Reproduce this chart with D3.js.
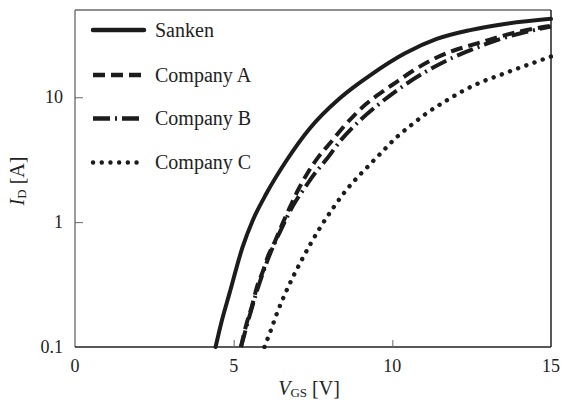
<!DOCTYPE html>
<html>
<head>
<script src="https://cdn.jsdelivr.net/npm/d3@7"></script>
</head>
<body style="margin:0">
<svg id="chart" width="561" height="403"></svg>
<script>
// Transfer characteristics I_D vs V_GS for four devices
const seriesNames = ["Sanken", "Company A", "Company B", "Company C"];

const sankenV = [4.43, 4.62, 4.87, 5.28, 5.6, 6.04, 6.67, 7.39, 8.3, 8.92, 9.3, 10.4, 11.4, 12.45, 13.49, 15];
const sankenI = [0.1, 0.16, 0.27, 0.63, 1.03, 1.71, 3.13, 5.6, 9.6, 12.8, 15.0, 22.5, 29.3, 34.5, 38.5, 42.5];

const companyAV = [5.23, 5.41, 5.57, 5.73, 5.93, 6.09, 6.30, 6.56, 6.78, 7.05, 7.34, 7.66, 8.04, 8.41, 8.83, 9.19, 9.51, 10.14, 10.65, 11.19, 11.82, 12.34, 12.86, 13.39, 13.92, 14.43, 15];
const companyAI = [0.1, 0.155, 0.21, 0.30, 0.41, 0.54, 0.70, 1.0, 1.33, 1.85, 2.5, 3.3, 4.3, 5.6, 7.3, 8.9, 10.3, 13.3, 16.3, 19.6, 23.1, 25.5, 27.9, 30.6, 33.2, 35.3, 37.3];

const companyBV = [5.23, 5.45, 5.75, 6.1, 6.5, 6.9, 7.25, 7.5, 7.93, 8.4, 9.0, 9.55, 10.4, 11.03, 11.98, 12.66, 13.4, 14.2, 15];
const companyBI = [0.1, 0.16, 0.29, 0.52, 0.88, 1.4, 1.9, 2.35, 3.2, 4.6, 6.6, 8.7, 12.6, 15.9, 21.2, 25.0, 29.3, 33.3, 36.8];

const companyCV = [5.97, 6.17, 6.38, 6.61, 6.86, 7.13, 7.43, 7.74, 8.09, 8.35, 8.56, 8.77, 8.98, 9.19, 9.35, 9.56, 10.14, 10.6, 11.1, 11.7, 12.24, 12.76, 13.34, 13.92, 14.5, 15];
const companyCI = [0.1, 0.136, 0.191, 0.263, 0.36, 0.49, 0.675, 0.917, 1.25, 1.55, 1.82, 2.1, 2.4, 2.72, 3.0, 3.4, 4.8, 6.0, 7.5, 9.4, 11.3, 13.1, 14.9, 16.9, 19.1, 21.2];

const xTicks = [0, 5, 10, 15];
const xTickLabels = ["0", "5", "10", "15"];
const yTicks = [0.1, 1, 10];
const yTickLabels = ["0.1", "1", "10"];

const FONT = `"Liberation Serif"`;
const INK = "#222";

const series = [
  { name: seriesNames[0], v: sankenV, i: sankenI, dash: null, cap: "round" },
  { name: seriesNames[1], v: companyAV, i: companyAI, dash: "12,6", cap: "butt" },
  { name: seriesNames[2], v: companyBV, i: companyBI, dash: "17,5,2,5", cap: "butt" },
  { name: seriesNames[3], v: companyCV, i: companyCI, dash: "0.1,8.6", cap: "round" }
];

const svg = d3.select("#chart");
const margin = { left: 75, right: 10, top: 10, bottom: 56 };
const W = 561, H = 403;

const x = d3.scaleLinear().domain([0, 15]).range([margin.left, W - margin.right]);
const y = d3.scaleLog().domain([0.1, 50]).range([H - margin.bottom, margin.top]);

// Frame: left/top lighter, bottom/right darker
const x0 = x.range()[0], x1 = x.range()[1];
const y0 = y.range()[0], y1 = y.range()[1];
svg.append("line").attr("x1", x0).attr("x2", x0).attr("y1", y0).attr("y2", y1)
  .attr("stroke", "#7a7a7a").attr("stroke-width", 1.5);
svg.append("line").attr("x1", x0).attr("x2", x1).attr("y1", y1).attr("y2", y1)
  .attr("stroke", "#6a6a6a").attr("stroke-width", 1.5);
svg.append("line").attr("x1", x1).attr("x2", x1).attr("y1", y1).attr("y2", y0)
  .attr("stroke", INK).attr("stroke-width", 1.5);
svg.append("line").attr("x1", x0).attr("x2", x1).attr("y1", y0).attr("y2", y0)
  .attr("stroke", INK).attr("stroke-width", 1.5);

// Axes with inward ticks; tick labels are written as plain svg text below
const xAxis = d3.axisBottom(x).tickValues(xTicks).tickFormat("").tickSizeInner(-7).tickSizeOuter(0);
const gx = svg.append("g").attr("transform", `translate(0,${y0})`).call(xAxis);
gx.select(".domain").remove();
gx.selectAll(".tick text").remove();
gx.selectAll(".tick line").attr("stroke", "#666").attr("stroke-width", 1)
  .style("display", d => (d === 0 || d === 15) ? "none" : null);

const yAxis = d3.axisLeft(y).tickValues(yTicks).tickFormat("").tickSizeInner(-8).tickSizeOuter(0);
const gy = svg.append("g").attr("transform", `translate(${x0},0)`).call(yAxis);
gy.select(".domain").remove();
gy.selectAll(".tick text").remove();
gy.selectAll(".tick line").attr("stroke", "#666").attr("stroke-width", 1)
  .style("display", d => d === 0.1 ? "none" : null);

xTicks.forEach((t, k) => {
  svg.append("text").attr("x", x(t)).attr("y", y0 + 25)
    .attr("text-anchor", "middle").attr("font-size", 18).attr("fill", INK)
    .style("font-family", FONT).text(xTickLabels[k]);
});
yTicks.forEach((t, k) => {
  svg.append("text").attr("x", x0 - 12).attr("y", y(t) + 6)
    .attr("text-anchor", "end").attr("font-size", 18).attr("fill", INK)
    .style("font-family", FONT).text(yTickLabels[k]);
});

// Curves
svg.append("clipPath").attr("id", "plot-clip").append("rect")
  .attr("x", x0).attr("y", y1).attr("width", x1 - x0 + 2).attr("height", y0 - y1 + 2);

const line = d3.line()
  .x(d => x(d[0]))
  .y(d => y(d[1]))
  .curve(d3.curveMonotoneX);

svg.append("g").attr("clip-path", "url(#plot-clip)")
  .selectAll("path").data(series).join("path")
  .attr("d", s => line(s.v.map((v, k) => [v, s.i[k]])))
  .attr("fill", "none")
  .attr("stroke", "#1c1c1c")
  .attr("stroke-width", (s, k) => k === 3 ? 4.4 : 4)
  .attr("stroke-linecap", s => s.cap)
  .attr("stroke-linejoin", "round")
  .attr("stroke-dasharray", s => s.dash);

// Legend
const legendRows = [30, 75, 118.5, 162.5];
series.forEach((s, k) => {
  svg.append("line")
    .attr("x1", 93).attr("x2", 144)
    .attr("y1", legendRows[k]).attr("y2", legendRows[k])
    .attr("stroke", "#1c1c1c")
    .attr("stroke-width", k === 3 ? 4.4 : 4.5)
    .attr("stroke-linecap", s.cap)
    .attr("stroke-dasharray", s.dash);
  svg.append("text")
    .attr("x", 155).attr("y", legendRows[k] + 6.5)
    .attr("font-size", 20).attr("fill", INK)
    .style("font-family", FONT)
    .text(s.name);
});

// Axis titles
const xt = svg.append("text").attr("x", 309).attr("y", 395)
  .attr("text-anchor", "middle").attr("font-size", 20).attr("fill", INK)
  .style("font-family", FONT);
xt.append("tspan").style("font-style", "italic").text("V");
xt.append("tspan").attr("font-size", 13).attr("dy", 2).text("GS");
xt.append("tspan").attr("dy", -2).text(" [V]");

const yt = svg.append("text")
  .attr("transform", "translate(24,181) rotate(-90)")
  .attr("text-anchor", "middle").attr("font-size", 20).attr("fill", INK)
  .style("font-family", FONT);
yt.append("tspan").style("font-style", "italic").text("I");
yt.append("tspan").attr("font-size", 13).attr("dy", 2).text("D");
yt.append("tspan").attr("dy", -2).text(" [A]");
</script>
</body>
</html>
